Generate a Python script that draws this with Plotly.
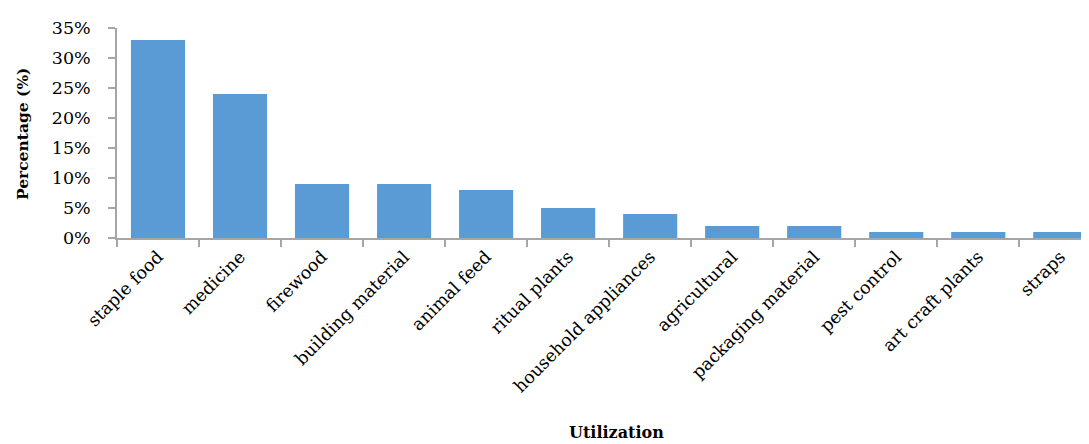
import plotly.graph_objects as go

categories = ["staple food", "medicine", "firewood", "building material", "animal feed",
              "ritual plants", "household appliances", "agricultural", "packaging material",
              "pest control", "art craft plants", "straps"]
values = [33, 24, 9, 9, 8, 5, 4, 2, 2, 1, 1, 1]
y_ticks = [0, 5, 10, 15, 20, 25, 30, 35]
y_tick_labels = [f"{v}%" for v in y_ticks]

FONT = "DejaVu Serif"
AXIS_COLOR = "#A6A6A6"

fig = go.Figure(go.Bar(
    x=categories, y=values,
    marker=dict(color="#5B9BD5", line=dict(width=0)),
))

fig.update_layout(
    width=1081, height=436,
    margin=dict(l=109, r=0, t=20, b=206),
    plot_bgcolor="white", paper_bgcolor="white",
    bargap=0.34,
    showlegend=False,
    font=dict(family=FONT, size=17.5, color="black"),
)
fig.update_xaxes(
    range=[-0.5, 11.35],
    showline=True, linecolor=AXIS_COLOR, linewidth=1.5,
    ticks="outside", tickson="boundaries", ticklen=7, tickcolor=AXIS_COLOR, tickwidth=1.5,
    tickangle=-45, tickfont=dict(family=FONT, size=17.5),
    showgrid=False, zeroline=False,
)
fig.update_yaxes(
    range=[0, 35],
    tickvals=y_ticks, ticktext=y_tick_labels,
    showline=True, linecolor=AXIS_COLOR, linewidth=1.5,
    ticks="outside", ticklen=7, tickcolor=AXIS_COLOR, tickwidth=1.5,
    ticklabelstandoff=14,
    tickfont=dict(family=FONT, size=17.5),
    showgrid=False, zeroline=False,
)
fig.add_annotation(text="<b>Percentage (%)</b>", xref="paper", yref="paper",
                   x=-0.0977, y=0.495, xanchor="center", yanchor="middle",
                   textangle=-90, showarrow=False, font=dict(family=FONT, size=15.5))
fig.add_annotation(text="<b>Utilization</b>", xref="paper", yref="paper",
                   x=0.514, y=-0.925, xanchor="center", yanchor="middle",
                   showarrow=False, font=dict(family=FONT, size=16))

fig.write_html("out.html")
